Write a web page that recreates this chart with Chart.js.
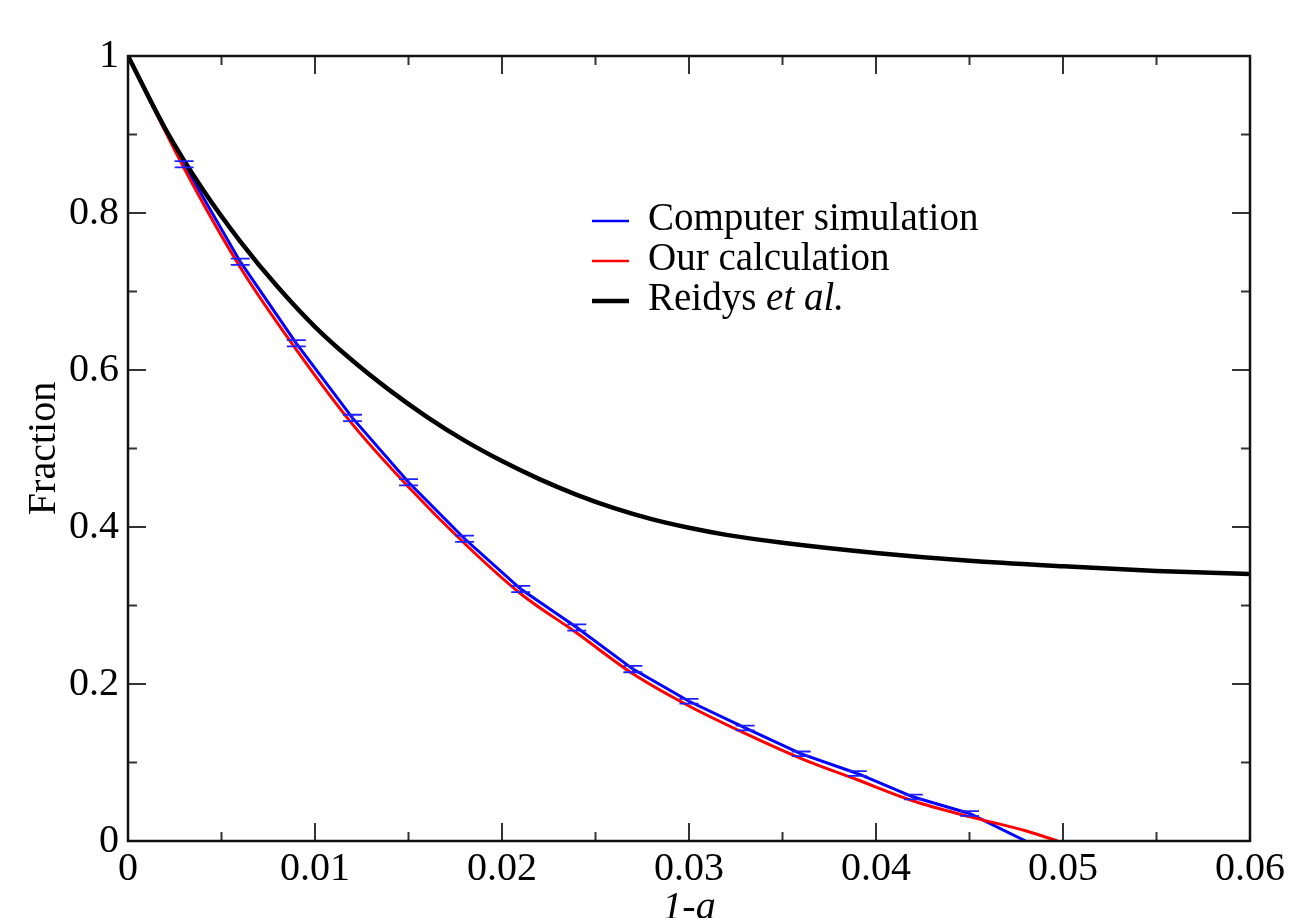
<!DOCTYPE html>
<html>
<head>
<meta charset="utf-8">
<script src="https://cdn.jsdelivr.net/npm/chart.js@4"></script>
<style>
  body { margin: 0; background: #fff; }
  #wrap { width: 1294px; height: 918px; position: relative; }
</style>
</head>
<body>
<div id="wrap"><canvas id="fracChart"></canvas></div>
<script>
// Computer simulation (blue, with error bars)
const simX = [0, 0.003, 0.006, 0.009, 0.012, 0.015, 0.018, 0.021, 0.024, 0.027, 0.030, 0.033, 0.036, 0.039, 0.042, 0.045, 0.048];
const simY = [1.0, 0.862, 0.738, 0.634, 0.539, 0.457, 0.385, 0.321, 0.272, 0.219, 0.178, 0.144, 0.111, 0.086, 0.056, 0.035, 0.0];
const simErr = [0, 0.004, 0.004, 0.004, 0.004, 0.004, 0.004, 0.004, 0.004, 0.004, 0.003, 0.003, 0.003, 0.003, 0.003, 0.003, 0];

// Our calculation (red)
const calcX = [0, 0.003, 0.006, 0.009, 0.012, 0.015, 0.018, 0.021, 0.024, 0.027, 0.030, 0.033, 0.036, 0.039, 0.042, 0.045, 0.048, 0.0497];
const calcY = [1.0, 0.857, 0.731, 0.626, 0.531, 0.451, 0.379, 0.315, 0.265, 0.213, 0.172, 0.137, 0.105, 0.078, 0.051, 0.031, 0.013, 0.0];

// Reidys et al. (black)
const reidysX = [0, 0.002, 0.004, 0.006, 0.008, 0.010, 0.012, 0.014, 0.016, 0.018, 0.020, 0.022, 0.024, 0.026, 0.028, 0.030, 0.032, 0.035, 0.040, 0.045, 0.050, 0.055, 0.060];
const reidysY = [1.0, 0.907, 0.830, 0.764, 0.706, 0.655, 0.612, 0.574, 0.540, 0.510, 0.484, 0.461, 0.441, 0.424, 0.410, 0.399, 0.390, 0.380, 0.367, 0.357, 0.350, 0.344, 0.340];

const xTickLabels = ['0', '0.01', '0.02', '0.03', '0.04', '0.05', '0.06'];
const yTickLabels = ['0', '0.2', '0.4', '0.6', '0.8', '1'];

const legendItems = [
  { color: '#0000ff', width: 2.5, parts: [['Computer simulation', '']] },
  { color: '#ff0000', width: 2.5, parts: [['Our calculation', '']] },
  { color: '#000000', width: 4.5, parts: [['Reidys ', ''], ['et al.', 'italic ']] }
];

const serif = '"Liberation Serif", "Times New Roman", serif';

function toPoints(xs, ys) {
  return xs.map((x, i) => ({ x: x, y: ys[i] }));
}

// barres d'erreur sur la simulation
const errorBars = {
  id: 'errorBars',
  afterDatasetsDraw(chart) {
    const ctx = chart.ctx;
    const xs = chart.scales.x, ys = chart.scales.y;
    ctx.save();
    ctx.strokeStyle = '#2020ff';
    ctx.lineWidth = 1.8;
    simX.forEach((x, i) => {
      if (!simErr[i]) return;
      const px = xs.getPixelForValue(x);
      const top = ys.getPixelForValue(simY[i] + simErr[i]);
      const bot = ys.getPixelForValue(simY[i] - simErr[i]);
      ctx.beginPath();
      ctx.moveTo(px, top); ctx.lineTo(px, bot);
      ctx.moveTo(px - 9.5, top); ctx.lineTo(px + 9.5, top);
      ctx.moveTo(px - 9.5, bot); ctx.lineTo(px + 9.5, bot);
      ctx.stroke();
    });
    ctx.restore();
  }
};

// cadre et graduations vers l'intérieur, sur les quatre côtés
const frameTicks = {
  id: 'frameTicks',
  afterDraw(chart) {
    const ctx = chart.ctx;
    const a = chart.chartArea;
    const xs = chart.scales.x, ys = chart.scales.y;
    ctx.save();
    ctx.strokeStyle = '#333';
    ctx.lineWidth = 2;
    ctx.beginPath();
    for (let i = 0; i <= 12; i++) {
      const px = xs.getPixelForValue(i * 0.005);
      const len = i % 2 === 0 ? 18 : 9;
      ctx.moveTo(px, a.bottom); ctx.lineTo(px, a.bottom - len);
      ctx.moveTo(px, a.top); ctx.lineTo(px, a.top + len);
    }
    for (let i = 0; i <= 10; i++) {
      const py = ys.getPixelForValue(i * 0.1);
      const len = i % 2 === 0 ? 18 : 9;
      ctx.moveTo(a.left, py); ctx.lineTo(a.left + len, py);
      ctx.moveTo(a.right, py); ctx.lineTo(a.right - len, py);
    }
    ctx.stroke();
    ctx.strokeStyle = '#111';
    ctx.lineWidth = 2.5;
    ctx.strokeRect(a.left, a.top, a.right - a.left, a.bottom - a.top);

    // légende
    let rowY = 221;
    legendItems.forEach(item => {
      ctx.strokeStyle = item.color;
      ctx.lineWidth = item.width;
      ctx.beginPath();
      ctx.moveTo(592, rowY); ctx.lineTo(629, rowY);
      ctx.stroke();
      let tx = 648;
      ctx.fillStyle = '#000';
      ctx.textBaseline = 'alphabetic';
      item.parts.forEach(p => {
        ctx.font = p[1] + '39px ' + serif;
        ctx.fillText(p[0], tx, rowY + 9);
        tx += ctx.measureText(p[0]).width;
      });
      rowY += 40;
    });
    ctx.restore();
  }
};

const ctx = document.getElementById('fracChart').getContext('2d');

new Chart(ctx, {
  type: 'line',
  data: {
    datasets: [
      {
        label: 'Computer simulation',
        data: toPoints(simX, simY),
        borderColor: '#0000ff',
        borderWidth: 3,
        pointRadius: 0,
        tension: 0,
        order: 3
      },
      {
        label: 'Our calculation',
        data: toPoints(calcX, calcY),
        borderColor: '#ff0000',
        borderWidth: 3,
        pointRadius: 0,
        cubicInterpolationMode: 'monotone',
        order: 2
      },
      {
        label: 'Reidys et al.',
        data: toPoints(reidysX, reidysY),
        borderColor: '#000000',
        borderWidth: 4.5,
        pointRadius: 0,
        cubicInterpolationMode: 'monotone',
        order: 1
      }
    ]
  },
  options: {
    responsive: true,
    maintainAspectRatio: false,
    animation: false,
    layout: { padding: { top: 56, right: 44, left: 0, bottom: 0 } },
    plugins: {
      legend: { display: false },
      tooltip: { enabled: false }
    },
    scales: {
      x: {
        type: 'linear',
        min: 0,
        max: 0.06,
        grid: { display: false, drawTicks: false },
        border: { display: false },
        ticks: {
          stepSize: 0.01,
          padding: 4,
          color: '#000',
          font: { family: serif, size: 40 },
          callback: (v, i) => xTickLabels[i]
        },
        title: {
          display: true,
          text: '1-a',
          color: '#000',
          font: { family: serif, size: 40, style: 'italic', lineHeight: 0.7 },
          padding: { top: 0, bottom: -4 }
        },
        afterFit: s => { s.height = 77; }
      },
      y: {
        type: 'linear',
        min: 0,
        max: 1,
        grid: { display: false, drawTicks: false },
        border: { display: false },
        ticks: {
          stepSize: 0.2,
          padding: 9,
          color: '#000',
          font: { family: serif, size: 40 },
          callback: (v, i) => yTickLabels[i]
        },
        title: {
          display: true,
          text: 'Fraction',
          color: '#000',
          font: { family: serif, size: 40 },
          padding: { top: 20, bottom: 0 }
        },
        afterFit: s => { s.width = 128; }
      }
    }
  },
  plugins: [errorBars, frameTicks]
});
</script>
</body>
</html>
